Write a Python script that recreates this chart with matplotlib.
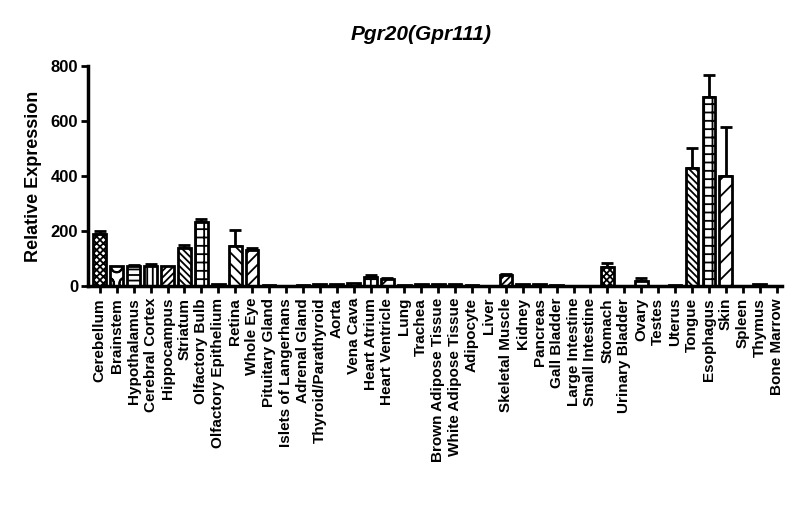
import matplotlib
matplotlib.use("Agg")
import matplotlib.pyplot as plt
import numpy as np

plt.rcParams['font.family'] = ['Liberation Sans', 'DejaVu Sans']
plt.rcParams['font.weight'] = 'bold'
plt.rcParams['hatch.linewidth'] = 1.3

# tissues and expression (mean, sem)
tissues = ["Cerebellum", "Brainstem", "Hypothalamus", "Cerebral Cortex", "Hippocampus",
           "Striatum", "Olfactory Bulb", "Olfactory Epithelium", "Retina", "Whole Eye",
           "Pituitary Gland", "Islets of Langerhans", "Adrenal Gland", "Thyroid/Parathyroid",
           "Aorta", "Vena Cava", "Heart Atrium", "Heart Ventricle", "Lung", "Trachea",
           "Brown Adipose Tissue", "White Adipose Tissue", "Adipocyte", "Liver",
           "Skeletal Muscle", "Kidney", "Pancreas", "Gall Bladder", "Large Intestine",
           "Small Intestine", "Stomach", "Urinary Bladder", "Ovary", "Testes", "Uterus",
           "Tongue", "Esophagus", "Skin", "Spleen", "Thymus", "Bone Marrow"]
means = [188, 72, 75, 72, 74,
         137, 232, 8, 145, 133,
         5, 2, 5, 6,
         8, 10, 32, 25, 4, 9,
         7, 8, 3, 1,
         40, 6, 7, 3, 2,
         2, 70, 2, 20, 2, 3,
         430, 688, 401, 2, 6, 2]
errors = [12, 0, 3, 10, 0,
          11, 12, 0, 60, 5,
          0, 0, 0, 0,
          0, 0, 8, 6, 0, 0,
          0, 0, 0, 0,
          3, 0, 0, 0, 0,
          0, 14, 0, 10, 0, 0,
          74, 80, 176, 0, 0, 0]
hatches = ['xxxxx', 'O', '---', '|||', '/////',
           '\\\\\\\\\\', '++', '//', '\\\\\\', '///']

fig = plt.figure(figsize=(8, 5.25), dpi=100)
ax = fig.add_axes([0.11, 0.455, 0.867, 0.419])

x = np.arange(len(tissues))
for i in x:
    ax.bar(i, means[i], width=0.75, color='white', edgecolor='black',
           linewidth=2, hatch=hatches[i % len(hatches)], zorder=2)
    if errors[i] > 0:
        ax.errorbar(i, means[i], yerr=[[0], [errors[i]]], fmt='none',
                    ecolor='black', elinewidth=2, capsize=4, capthick=2, zorder=1)

ax.set_xlim(-0.7, 40.3)
ax.set_ylim(0, 800)
ax.set_yticks([0, 200, 400, 600, 800])
ax.set_xticks(x)
ax.set_xticklabels(tissues, rotation=90, fontsize=11, fontweight='bold')
ax.tick_params(axis='y', labelsize=12, width=2, length=5, direction='out', pad=2)
ax.tick_params(axis='x', width=2, length=5, direction='out')
for lab in ax.get_yticklabels():
    lab.set_fontweight('bold')

ax.spines['top'].set_visible(False)
ax.spines['right'].set_visible(False)
ax.spines['left'].set_linewidth(2.5)
ax.spines['bottom'].set_linewidth(2.5)

ax.set_ylabel("Relative Expression", fontsize=13, fontweight='bold', labelpad=6)
fig.text(0.527, 0.935, "Pgr20(Gpr111)", fontsize=15, fontweight='bold', style='italic',
         ha='center', va='center')

fig.savefig("out.png", dpi=100)
